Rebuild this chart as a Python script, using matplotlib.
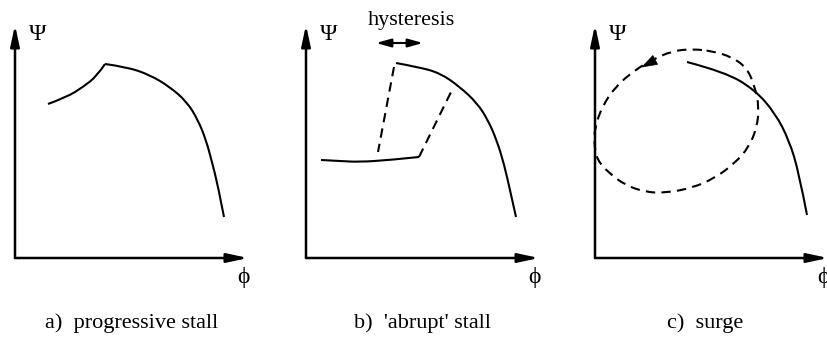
import numpy as np
import matplotlib.pyplot as plt
from matplotlib.path import Path
from matplotlib.patches import PathPatch, Polygon

plt.rcParams['font.family'] = ['Liberation Serif', 'DejaVu Serif']

# sketch curves in local (phi, psi) units, origin at each panel's axis corner
a_rise = [(33, 154), (52, 161), (68, 171), (82, 182), (90, 194)]
a_fall = [(90, 194), (112, 191), (135, 183), (155, 171), (172, 156),
          (183, 138), (191, 118), (197, 96), (203, 72), (209, 41)]

b_stalled = [(15, 98), (34, 97), (53, 96), (84, 98), (113, 101)]
b_unstalled = [(90, 195), (112, 191), (134, 185), (154, 171), (171, 155),
               (182, 138), (191, 117), (198, 94), (204, 68), (210, 41)]
b_drop = [(88, 191), (72, 106)]
b_recover = [(113, 101), (147, 170)]

c_char = [(92, 196), (130, 186), (160, 168), (180, 145), (194, 118),
          (204, 85), (212, 43)]
c_loop = [(97, 209), (77, 207), (57, 198), (40, 188), (20, 171), (7, 151),
          (0, 131), (-1, 115), (2, 98), (14, 85), (30, 73), (50, 66),
          (70, 65), (97, 70), (120, 80), (140, 95), (154, 111), (162, 131),
          (164, 151), (160, 171), (152, 190), (137, 201), (117, 207)]

captions = ["a)  progressive stall", "b)  'abrupt' stall", "c)  surge"]
origins = [(15, 80), (306, 80), (595, 80)]
caption_x = [117, 117, 110]
axis_len = 233


def smooth_path(pts, closed=False):
    p = np.asarray(pts, float)
    if closed:
        p = np.vstack([p, p[:1]])
        start = (p[-2] + p[0]) / 2
        verts, codes = [start], [Path.MOVETO]
        for i in range(len(p) - 1):
            verts += [p[i], (p[i] + p[i + 1]) / 2]
            codes += [Path.CURVE3, Path.CURVE3]
        return Path(verts, codes)
    if len(p) == 2:
        return Path(p)
    verts, codes = [p[0]], [Path.MOVETO]
    for i in range(1, len(p) - 1):
        end = p[-1] if i == len(p) - 2 else (p[i] + p[i + 1]) / 2
        verts += [p[i], end]
        codes += [Path.CURVE3, Path.CURVE3]
    return Path(verts, codes)


def curve(ax, pts, origin, dashed=False, closed=False):
    p = np.asarray(pts, float) + origin
    ls = (0, (4.5, 3)) if dashed else '-'
    ax.add_patch(PathPatch(smooth_path(p, closed), fill=False, lw=1.5,
                           ls=ls, ec='black', capstyle='butt'))


fig = plt.figure(figsize=(8.28, 3.38), dpi=100)
ax = fig.add_axes([0, 0, 1, 1])
ax.set_xlim(0, 828)
ax.set_ylim(0, 338)
ax.axis('off')

arrow = dict(arrowstyle='-|>,head_length=1.25,head_width=0.27', lw=1.8,
             color='black', shrinkA=0, shrinkB=0, mutation_scale=10)

for (ox, oy), cap, cx in zip(origins, captions, caption_x):
    ax.annotate('', xy=(ox, oy + axis_len), xytext=(ox, oy), arrowprops=arrow)
    ax.annotate('', xy=(ox + axis_len, oy), xytext=(ox, oy), arrowprops=arrow)
    ax.text(ox + 23, oy + 224, 'Ψ', fontsize=17, ha='center', va='center')
    ax.text(ox + 228, oy - 20, 'ϕ', fontsize=17, ha='center', va='center')
    ax.text(ox + cx, oy - 65, cap, fontsize=16, ha='center', va='center')

o = np.array(origins[0])
curve(ax, a_rise, o)
curve(ax, a_fall, o)

o = np.array(origins[1])
curve(ax, b_stalled, o)
curve(ax, b_unstalled, o)
curve(ax, b_drop, o, dashed=True)
curve(ax, b_recover, o, dashed=True)
ax.annotate('', xy=o + (70, 215), xytext=o + (117, 215),
            arrowprops=dict(arrowstyle='<|-|>,head_length=0.9,head_width=0.25',
                            lw=1.5, color='black', shrinkA=0, shrinkB=0,
                            mutation_scale=10))
ax.text(o[0] + 105, o[1] + 237, 'hysteresis', fontsize=16,
        ha='center', va='center')

o = np.array(origins[2])
curve(ax, c_char, o)
curve(ax, c_loop, o, dashed=True, closed=True)
# direction marker on the surge cycle
tip = o + np.array([47.0, 191.0])
d = np.array([-15.0, -8.0])
d /= np.linalg.norm(d)
n = np.array([-d[1], d[0]])
ax.add_patch(Polygon([tip, tip - 15 * d + 5 * n, tip - 15 * d - 5 * n],
                     closed=True, fc='black', ec='black', lw=0.5))

fig.savefig('out.png', dpi=100)
